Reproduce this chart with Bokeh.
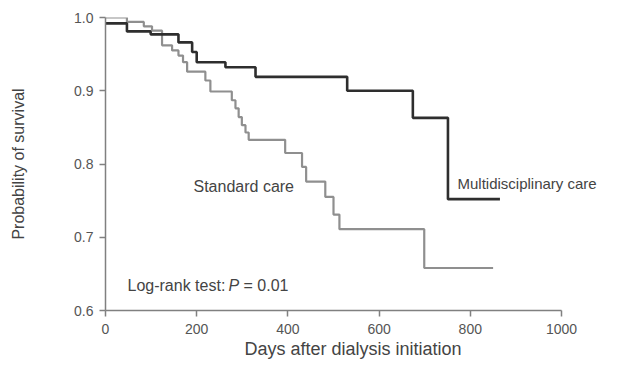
from bokeh.plotting import figure
from bokeh.models import Label, FixedTicker, Range1d, CustomJSTickFormatter
from bokeh.embed import file_html
from bokeh.resources import INLINE

# Kaplan-Meier step data (event day, survival after event)
md_days = [0, 47, 99, 160, 190, 200, 263, 329, 530, 674, 751]
md_surv = [0.992, 0.981, 0.977, 0.966, 0.953, 0.939, 0.932, 0.919, 0.900, 0.863, 0.752]
md_end = 865

std_days = [0, 47, 84, 102, 124, 146, 160, 170, 179, 219, 230, 277, 285, 292, 299, 307, 314,
            394, 431, 440, 482, 500, 513, 699]
std_surv = [1.0, 0.994, 0.988, 0.982, 0.962, 0.955, 0.948, 0.939, 0.926, 0.914, 0.899, 0.887,
            0.876, 0.864, 0.853, 0.843, 0.833, 0.815, 0.796, 0.776, 0.755, 0.731, 0.711, 0.658]
std_end = 850

x_ticks = [0, 200, 400, 600, 800, 1000]
y_ticks = [0.6, 0.7, 0.8, 0.9, 1.0]

FONT = "Liberation Sans"

# frame: x=0 at 105px, x=1000 at 561px; extended to the right so labels are not clipped
px_per_day = (561 - 105) / 1000.0
frame_right = 600
x_max = (frame_right - 105) / px_per_day

p = figure(width=601, height=361, output_backend="svg", toolbar_location=None,
           x_range=Range1d(0, x_max), y_range=Range1d(0.6, 1.0),
           min_border_left=105, min_border_top=17, min_border_bottom=50,
           min_border_right=601 - frame_right)
p.outline_line_color = None
p.grid.visible = False
p.background_fill_color = "white"

p.step(std_days + [std_end], std_surv + [std_surv[-1]], mode="after",
       line_color="#8f8f8f", line_width=2.2)
p.step(md_days + [md_end], md_surv + [md_surv[-1]], mode="after",
       line_color="#2e2e2e", line_width=2.6)

for ax in (p.xaxis[0], p.yaxis[0]):
    ax.axis_line_color = "#808080"
    ax.axis_line_width = 1.5
    ax.major_tick_line_color = "#808080"
    ax.major_tick_line_width = 1.5
    ax.major_tick_out = 6
    ax.major_tick_in = 0
    ax.minor_tick_line_color = None
    ax.major_label_text_font = FONT
    ax.major_label_text_font_size = "14px"
    ax.major_label_text_color = "#555555"
    ax.axis_label_text_font = FONT
    ax.axis_label_text_font_style = "normal"
    ax.axis_label_text_color = "#444444"

p.xaxis.bounds = (0, 1000)
p.xaxis.ticker = FixedTicker(ticks=x_ticks)
p.yaxis.ticker = FixedTicker(ticks=y_ticks)
p.yaxis.formatter = CustomJSTickFormatter(code="return tick.toFixed(1);")
p.xaxis.axis_label = "Days after dialysis initiation"
p.yaxis.axis_label = "Probability of survival"
p.xaxis.axis_label_text_font_size = "18px"
p.yaxis.axis_label_text_font_size = "16px"
p.xaxis.major_label_standoff = 7
p.yaxis.major_label_standoff = 6
p.xaxis.axis_label_standoff = 2
p.yaxis.axis_label_standoff = 44


def day(px):
    return (px - 105) / px_per_day


def lab(x, y, t, style="normal", size="16px"):
    p.add_layout(Label(x=x, y=y, text=t, text_font=FONT, text_font_size=size,
                       text_color="#444444", text_font_style=style,
                       text_baseline="middle", text_align="left"))


lab(day(193), 0.769, "Standard care")
lab(day(457), 0.773, "Multidisciplinary care", size="15px")
lab(day(127), 0.634, "Log-rank test:")
lab(day(228), 0.634, "P", "italic")
lab(day(243), 0.634, "= 0.01")

open("out.html", "w").write(file_html(p, INLINE))
